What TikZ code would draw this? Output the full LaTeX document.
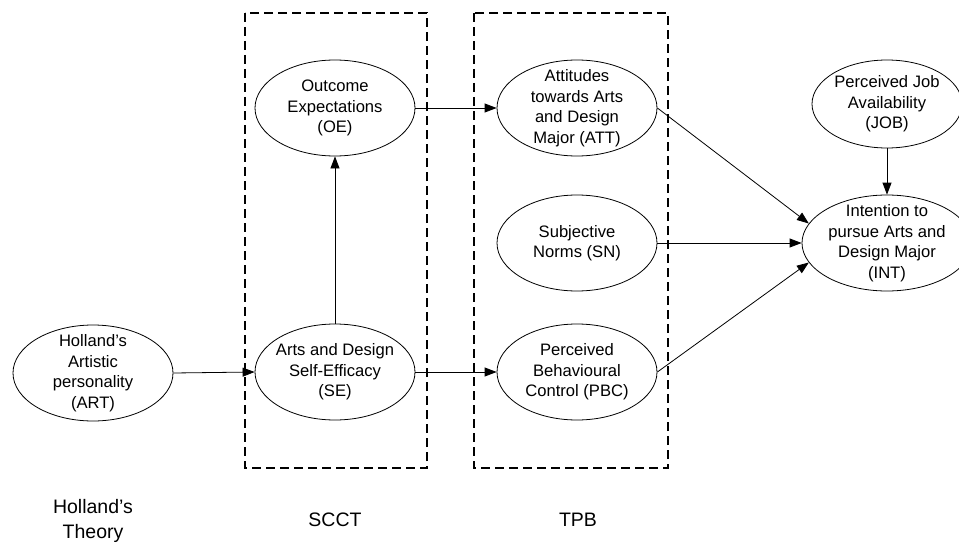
\documentclass[tikz,border=0pt]{standalone}
\usepackage{fontspec}
\setmainfont{Liberation Sans}
\usetikzlibrary{shapes.geometric,arrows.meta}
\begin{document}
\begin{tikzpicture}[x=1pt,y=-1pt,
  ell/.style={draw, ellipse, minimum width=160pt, minimum height=96pt, inner sep=0pt, line width=0.8pt},
  lbl/.style={align=center, font=\fontsize{16.6}{20.5}\selectfont, inner sep=0pt},
  grp/.style={draw, line width=1.4pt, dash pattern=on 9pt off 5pt},
  arr/.style={-{Triangle[length=12pt,width=9pt]}, line width=0.8pt},
  ttl/.style={align=center, font=\fontsize{19.5}{25}\selectfont, inner sep=0pt}]
\useasboundingbox (0,0) rectangle (959,543);
% group boxes
\draw[grp] (245,13) rectangle (427,468);
\draw[grp] (474,13) rectangle (668,468);
% ellipses
\node[ell] (ART) at (93,373) {};
\node[ell] (SE) at (335,372) {};
\node[ell] (OE) at (335,108) {};
\node[ell] (ATT) at (577,108) {};
\node[ell] (SN) at (577,243) {};
\node[ell] (PBC) at (577,372) {};
\node[ell, minimum width=150pt, minimum height=88pt] (JOB) at (887,104) {};
\node[ell, minimum width=170pt] (INT) at (887,243) {};
% texts
\node[lbl] (tART) at (ART) {Holland’s\\Artistic\\personality\\(ART)};
\node[lbl] (tSE) at (SE) {Arts and Design\\Self-Efficacy\\(SE)};
\node[lbl] (tOE) at (OE) {Outcome\\Expectations\\(OE)};
\node[lbl] (tATT) at (ATT) {Attitudes\\towards Arts\\and Design\\Major (ATT)};
\node[lbl] (tSN) at (SN) {Subjective\\Norms (SN)};
\node[lbl] (tPBC) at (PBC) {Perceived\\Behavioural\\Control (PBC)};
\node[lbl] (tJOB) at (JOB) {Perceived Job\\Availability\\(JOB)};
\node[lbl] (tINT) at (INT) {Intention to\\pursue Arts and\\Design Major\\(INT)};
% group titles
\node[ttl] (hol) at (93,521) {Holland’s\\Theory};
\node[ttl] (scct) at (335,520) {SCCT};
\node[ttl] (tpb) at (578,520) {TPB};
% connectors
\draw[arr] (ART.east) -- (SE.west);
\draw[arr] (SE.north) -- (OE.south);
\draw[arr] (OE.east) -- (ATT.west);
\draw[arr] (SE.east) -- (PBC.west);
\draw[arr] (ATT.east) -- (INT.166);
\draw[arr] (SN.east) -- (INT.west);
\draw[arr] (PBC.east) -- (INT.194);
\draw[arr] (JOB.south) -- (INT.north);
\end{tikzpicture}
\end{document}
